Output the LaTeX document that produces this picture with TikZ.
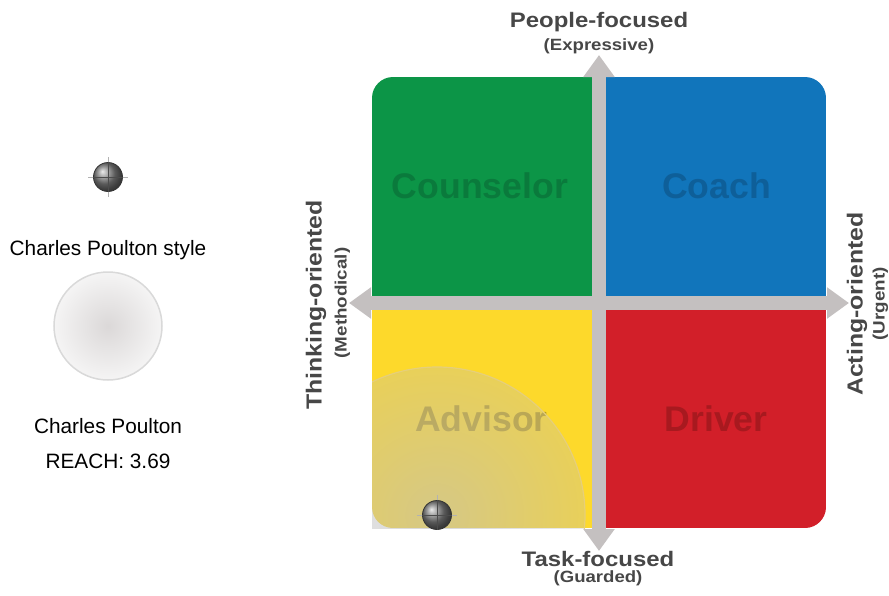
\documentclass[tikz,border=0pt]{standalone}
\usepackage{fontspec}
\setmainfont{Liberation Sans}
\newfontfamily\axisfont[FakeStretch=1.14]{Liberation Sans}
\usepackage{tikz}
\usetikzlibrary{positioning, arrows.meta, fadings}

\definecolor{counselorgreen}{HTML}{0C9547}
\definecolor{counselortext}{HTML}{0A7A3C}
\definecolor{coachblue}{HTML}{1175BB}
\definecolor{coachtext}{HTML}{0E5F99}
\definecolor{advisoryellow}{HTML}{FDD92B}
\definecolor{advisortext}{HTML}{B89C1E}
\definecolor{driverred}{HTML}{D21F29}
\definecolor{drivertext}{HTML}{A8191F}
\definecolor{axisgray}{HTML}{C4C0C0}
\definecolor{axistext}{HTML}{474747}
\definecolor{reachgray}{HTML}{BEBEBE}
\definecolor{reachedge}{HTML}{E6CF7A}
\definecolor{glowin}{HTML}{DBD8D8}
\definecolor{glowout}{HTML}{FAFAFA}

\pgfdeclareradialshading{softglow}{\pgfpoint{0bp}{0bp}}{color(0bp)=(glowin); color(30bp)=(glowout); color(50bp)=(glowout)}
\pgfdeclareradialshading{reachfadeshade}{\pgfpoint{0bp}{0bp}}{color(0bp)=(pgftransparent!38); color(35bp)=(pgftransparent!80); color(50bp)=(pgftransparent!80)}
\pgfdeclarefading{reachfade}{\pgfuseshading{reachfadeshade}}

\begin{document}
\begin{tikzpicture}[x=1pt, y=-1pt,
  quadlabel/.style={font=\bfseries\fontsize{35.6}{40}\selectfont, inner sep=0pt, anchor=base},
  axislabel/.style={font=\axisfont\bfseries\fontsize{21}{24}\selectfont, text=axistext, inner sep=0pt},
  axissub/.style={font=\axisfont\bfseries\fontsize{16.3}{18}\selectfont, text=axistext, inner sep=0pt},
  sidelabel/.style={font=\axisfont\bfseries\fontsize{21.8}{24}\selectfont, text=axistext, inner sep=0pt, rotate=90, anchor=base},
  sidesub/.style={font=\axisfont\bfseries\fontsize{16.5}{18}\selectfont, text=axistext, inner sep=0pt, rotate=90, anchor=base},
  axisarrow/.style={draw=axisgray, line width=14pt,
    {Triangle[width=30pt, length=22pt]}-{Triangle[width=30pt, length=22pt]}},
  marker/.style={circle, draw=black!80, line width=0.8pt, shading=ball, ball color=black!50,
    minimum size=29pt, inner sep=0pt},
  crossin/.style={draw=black!70, line width=0.7pt},
  crossout/.style={draw=black!30, line width=0.7pt},
  reachcircle/.style={circle, draw=black!15, line width=1.5pt, shading=softglow,
    minimum size=108pt, inner sep=0pt},
  plain/.style={font=\fontsize{20.8}{24}\selectfont, inner sep=0pt, anchor=base}
]
\useasboundingbox (0,0) rectangle (889,595);

% quadrants
\begin{scope}
  \clip[rounded corners=21pt] (372,77) rectangle (826,528);
  \fill[counselorgreen] (372,77) rectangle (599,303);
  \fill[coachblue] (599,77) rectangle (826,303);
  \fill[advisoryellow] (372,303) rectangle (599,528);
  \fill[driverred] (599,303) rectangle (826,528);
\end{scope}

\node[quadlabel, text=counselortext] (counselor) at (480,198) {Counselor};
\node[quadlabel, text=coachtext] (coach) at (716.5,198) {Coach};
\node[quadlabel, text=advisortext] (advisor) at (481.5,431.5) {Advisor};
\node[quadlabel, text=drivertext] (driver) at (716,431.5) {Driver};

% reach area around the marker
\coordinate (advisorpos) at (437,515);
\begin{scope}
  \clip (372,309) rectangle (592,528);
  \fill[reachgray, path fading=reachfade] (advisorpos) circle (148);
  \draw[reachedge, line width=1.2pt] (advisorpos) circle (148);
\end{scope}

% axes
\coordinate (ptop) at (599,55);
\coordinate (pbottom) at (599,551);
\coordinate (pleft) at (349,303);
\coordinate (pright) at (849,303);
\draw[axisarrow] (pleft) -- (pright);
\draw[axisarrow] (ptop) -- (pbottom);

\node[axislabel, anchor=base] (people) at (599,27.7) {People-focused};
\node[axissub, below=6pt of people] (expressive) {(Expressive)};
\node[axislabel, anchor=base] (task) at (598,566.7) {Task-focused};
\node[axissub, below=3.5pt of task] (guarded) {(Guarded)};
\node[sidelabel] (thinking) at (321.5,305) {Thinking-oriented};
\node[sidesub] (methodical) at (346.5,303) {(Methodical)};
\node[sidelabel] (acting) at (862.5,304) {Acting-oriented};
\node[sidesub] (urgent) at (884.5,304) {(Urgent)};

% markers
\node[marker] (advisormark) at (advisorpos) {};
\draw[crossin] (advisormark.west) -- (advisormark.east);
\draw[crossin] (advisormark.north) -- (advisormark.south);
\draw[crossout] ([xshift=-5pt]advisormark.west) -- (advisormark.west);
\draw[crossout] ([xshift=5pt]advisormark.east) -- (advisormark.east);
\draw[crossout] ([yshift=5pt]advisormark.north) -- (advisormark.north);

\node[marker] (stylemark) at (108,177) {};
\draw[crossin] (stylemark.west) -- (stylemark.east);
\draw[crossin] (stylemark.north) -- (stylemark.south);
\draw[crossout] ([xshift=-5pt]stylemark.west) -- (stylemark.west);
\draw[crossout] ([xshift=5pt]stylemark.east) -- (stylemark.east);
\draw[crossout] ([yshift=5pt]stylemark.north) -- (stylemark.north);
\draw[crossout] ([yshift=-5pt]stylemark.south) -- (stylemark.south);

% left column
\node[plain] (stylename) at (108,255) {Charles Poulton style};
\node[reachcircle] (bigcircle) at (108,326) {};
\node[plain] (person) at (108,433) {Charles Poulton};
\node[plain] (reach) at (108,468) {REACH: 3.69};

\end{tikzpicture}
\end{document}
